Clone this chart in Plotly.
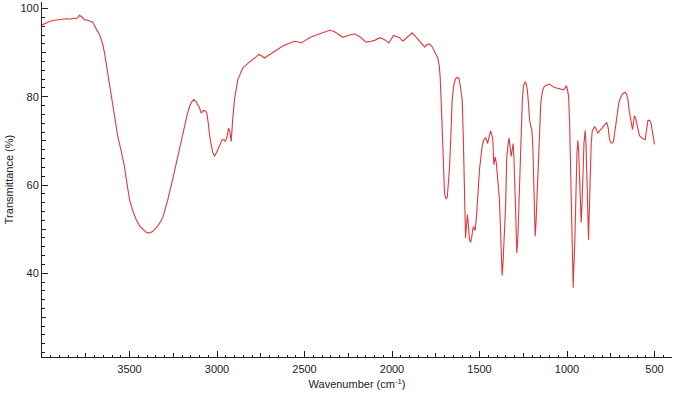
import plotly.graph_objects as go

wavenumber = [
    4000, 3985, 3960, 3938, 3910, 3885, 3862, 3840, 3820, 3805, 3795, 3786, 3775, 3757, 3735, 3710,
    3700, 3690, 3671, 3655, 3643, 3625, 3605, 3585, 3567, 3548, 3529, 3515, 3500, 3480, 3462, 3440,
    3424, 3405, 3390, 3370, 3348, 3330, 3310, 3295, 3281, 3255, 3233, 3210, 3186, 3170, 3157, 3145,
    3133, 3120, 3110, 3100, 3090, 3077, 3065, 3058, 3050, 3039, 3025, 3014, 3000, 2986, 2970, 2960,
    2953, 2942, 2934, 2926, 2919, 2910, 2900, 2881, 2865, 2852, 2820, 2795, 2775, 2761, 2745, 2729,
    2705, 2681, 2650, 2624, 2590, 2557, 2540, 2519, 2495, 2471, 2440, 2400, 2357, 2330, 2300, 2281,
    2250, 2214, 2180, 2148, 2120, 2100, 2067, 2040, 2018, 2005, 1991, 1975, 1957, 1938, 1910, 1885,
    1870, 1852, 1830, 1814, 1800, 1786, 1770, 1757, 1745, 1738, 1730, 1725, 1718, 1713, 1706, 1700,
    1695, 1690, 1684, 1678, 1671, 1663, 1656, 1647, 1637, 1628, 1618, 1610, 1599, 1592, 1586, 1580,
    1574, 1569, 1563, 1557, 1551, 1545, 1539, 1534, 1529, 1525, 1518, 1510, 1500, 1485, 1475, 1467,
    1460, 1454, 1445, 1437, 1430, 1424, 1418, 1410, 1404, 1399, 1390, 1386, 1380, 1375, 1371, 1366,
    1358, 1351, 1344, 1338, 1332, 1326, 1319, 1313, 1308, 1303, 1298, 1292, 1287, 1281, 1275, 1268,
    1262, 1255, 1249, 1239, 1233, 1227, 1220, 1214, 1207, 1201, 1195, 1190, 1186, 1182, 1177, 1170,
    1163, 1157, 1150, 1142, 1135, 1125, 1110, 1100, 1090, 1077, 1060, 1047, 1030, 1018, 1010, 1005,
    999, 991, 985, 980, 975, 970, 967, 965, 961, 955, 950, 947, 943, 938, 934, 929,
    924, 919, 914, 910, 903, 896, 891, 887, 882, 877, 872, 867, 862, 856, 849, 843,
    835, 824, 812, 799, 785, 773, 765, 757, 748, 740, 734, 726, 719, 711, 704, 695,
    685, 675, 667, 660, 652, 645, 637, 631, 626, 620, 615, 608, 601, 593, 586, 575,
    567, 553, 545, 538, 530, 525, 519, 513, 506, 500,
]

transmittance = [
    96.3, 96.6, 97.0, 97.3, 97.4, 97.6, 97.7, 97.6, 97.8, 97.7, 98.0, 98.5, 98.2, 97.5, 97.3, 96.9,
    96.3, 95.4, 94.1, 92.2, 90.0, 85.5, 80.1, 75.0, 71.0, 67.8, 64.2, 60.5, 56.7, 54.0, 52.2, 50.6,
    49.9, 49.3, 49.1, 49.4, 50.3, 51.2, 52.6, 54.5, 56.7, 61.0, 65.0, 69.2, 73.3, 76.0, 77.8, 78.8,
    79.4, 78.9, 78.2, 77.5, 76.3, 76.9, 76.8, 76.3, 74.0, 70.3, 67.5, 66.5, 67.6, 68.8, 70.3, 70.2,
    69.9, 71.0, 72.9, 72.0, 69.9, 75.0, 79.4, 83.9, 85.5, 86.6, 87.7, 88.4, 89.1, 89.6, 89.3, 88.8,
    89.4, 90.0, 90.8, 91.5, 92.1, 92.6, 92.5, 92.2, 92.8, 93.4, 93.9, 94.5, 95.1, 94.8, 94.1, 93.5,
    93.9, 94.3, 93.5, 92.4, 92.6, 92.8, 93.4, 92.9, 92.2, 93.0, 93.9, 93.7, 93.4, 92.6, 93.6, 94.5,
    93.9, 93.1, 92.1, 91.3, 91.8, 92.0, 91.3, 90.3, 89.5, 88.8, 87.0, 84.6, 78.0, 71.9, 64.5, 58.3,
    57.2, 56.8, 57.3, 60.0, 64.2, 72.0, 79.4, 82.7, 84.1, 84.4, 84.3, 82.5, 79.4, 70.0, 56.7, 48.0,
    51.0, 53.3, 50.5, 47.5, 47.0, 48.0, 49.8, 50.6, 49.9, 49.7, 52.5, 56.7, 63.5, 68.8, 70.3, 70.7,
    70.3, 69.4, 71.2, 72.3, 71.5, 70.3, 64.6, 66.4, 65.0, 62.7, 58.5, 56.7, 50.0, 42.5, 39.5, 42.0,
    50.0, 55.2, 66.5, 69.5, 70.7, 69.0, 66.5, 68.0, 69.4, 66.0, 61.2, 52.0, 44.6, 48.0, 55.2, 65.0,
    74.1, 79.5, 82.4, 83.4, 83.0, 81.6, 78.5, 74.8, 73.3, 72.6, 68.5, 62.7, 54.0, 48.4, 51.5, 59.0,
    67.0, 74.1, 78.5, 80.9, 82.0, 82.5, 82.8, 82.9, 82.6, 82.2, 82.0, 81.9, 81.6, 81.6, 82.0, 82.5,
    82.0, 80.1, 74.0, 66.5, 57.0, 47.6, 41.0, 36.7, 40.0, 47.6, 56.0, 62.7, 67.5, 70.1, 68.0, 62.7,
    56.0, 51.5, 56.0, 62.7, 69.5, 72.4, 69.0, 62.7, 54.0, 47.6, 55.0, 62.7, 69.0, 72.2, 72.8, 73.2,
    72.8, 71.7, 72.4, 72.9, 73.7, 74.1, 73.0, 70.3, 69.5, 69.6, 69.9, 72.5, 74.8, 77.0, 78.6, 79.7,
    80.5, 80.9, 81.0, 80.6, 79.4, 77.0, 74.8, 73.2, 72.6, 74.0, 75.7, 75.2, 74.1, 72.5, 71.2, 70.8,
    70.5, 70.3, 72.5, 74.6, 74.7, 74.5, 73.8, 72.6, 70.8, 69.2,
]

# labelled major ticks
x_tick_vals = [3500, 3000, 2500, 2000, 1500, 1000, 500]
x_tick_text = ["3500", "3000", "2500", "2000", "1500", "1000", "500"]
y_tick_vals = [40, 60, 80, 100]
y_tick_text = ["40", "60", "80", "100"]
# unlabelled medium ticks
x_mid_ticks = [3750, 3250, 2750, 2250, 1750, 1250, 750]
y_mid_ticks = [30, 50, 70, 90]

X_RANGE = [4000, 400]
Y_RANGE = [21, 101.5]

fig = go.Figure()
fig.add_trace(go.Scatter(
    x=wavenumber, y=transmittance, mode="lines",
    line=dict(color="#e0393e", width=1.1),
    showlegend=False, hoverinfo="x+y",
))
# empty helper trace so the overlay axes (medium ticks) are drawn
fig.add_trace(go.Scatter(x=[], y=[], xaxis="x2", yaxis="y2", showlegend=False, hoverinfo="skip"))

font = dict(family="Liberation Sans, Arial, sans-serif", size=11, color="#222222")

fig.update_layout(
    width=675, height=398,
    margin=dict(l=42, r=3, t=2, b=41),
    paper_bgcolor="white", plot_bgcolor="white",
    font=font,
    xaxis=dict(
        range=X_RANGE, autorange=False,
        tickmode="array", tickvals=x_tick_vals, ticktext=x_tick_text,
        ticks="inside", ticklen=6, tickwidth=1, tickcolor="#222",
        showline=True, linecolor="#222", linewidth=1,
        showgrid=False, zeroline=False,
        minor=dict(ticks="inside", ticklen=2.5, tickcolor="#222", tickmode="linear", tick0=0, dtick=50, showgrid=False),
        title=dict(text="Wavenumber (cm<sup>-1</sup>)", font=font, standoff=6),
        ticklabelstandoff=2,
    ),
    xaxis2=dict(
        overlaying="x", anchor="y", side="bottom",
        range=X_RANGE, autorange=False,
        tickmode="array", tickvals=x_mid_ticks, showticklabels=False,
        ticks="inside", ticklen=4, tickwidth=1, tickcolor="#222",
        showline=False, showgrid=False, zeroline=False,
    ),
    yaxis=dict(
        range=Y_RANGE, autorange=False,
        tickmode="array", tickvals=y_tick_vals, ticktext=y_tick_text,
        ticks="inside", ticklen=6, tickwidth=1, tickcolor="#222",
        showline=True, linecolor="#222", linewidth=1,
        showgrid=False, zeroline=False,
        minor=dict(ticks="inside", ticklen=2.5, tickcolor="#222", tickmode="linear", tick0=0, dtick=2, showgrid=False),
        title=dict(text="Transmittance (%)", font=font, standoff=4),
    ),
    yaxis2=dict(
        overlaying="y", anchor="x", side="left",
        range=Y_RANGE, autorange=False,
        tickmode="array", tickvals=y_mid_ticks, showticklabels=False,
        ticks="inside", ticklen=4, tickwidth=1, tickcolor="#222",
        showline=False, showgrid=False, zeroline=False,
    ),
)

fig.write_html("out.html")
